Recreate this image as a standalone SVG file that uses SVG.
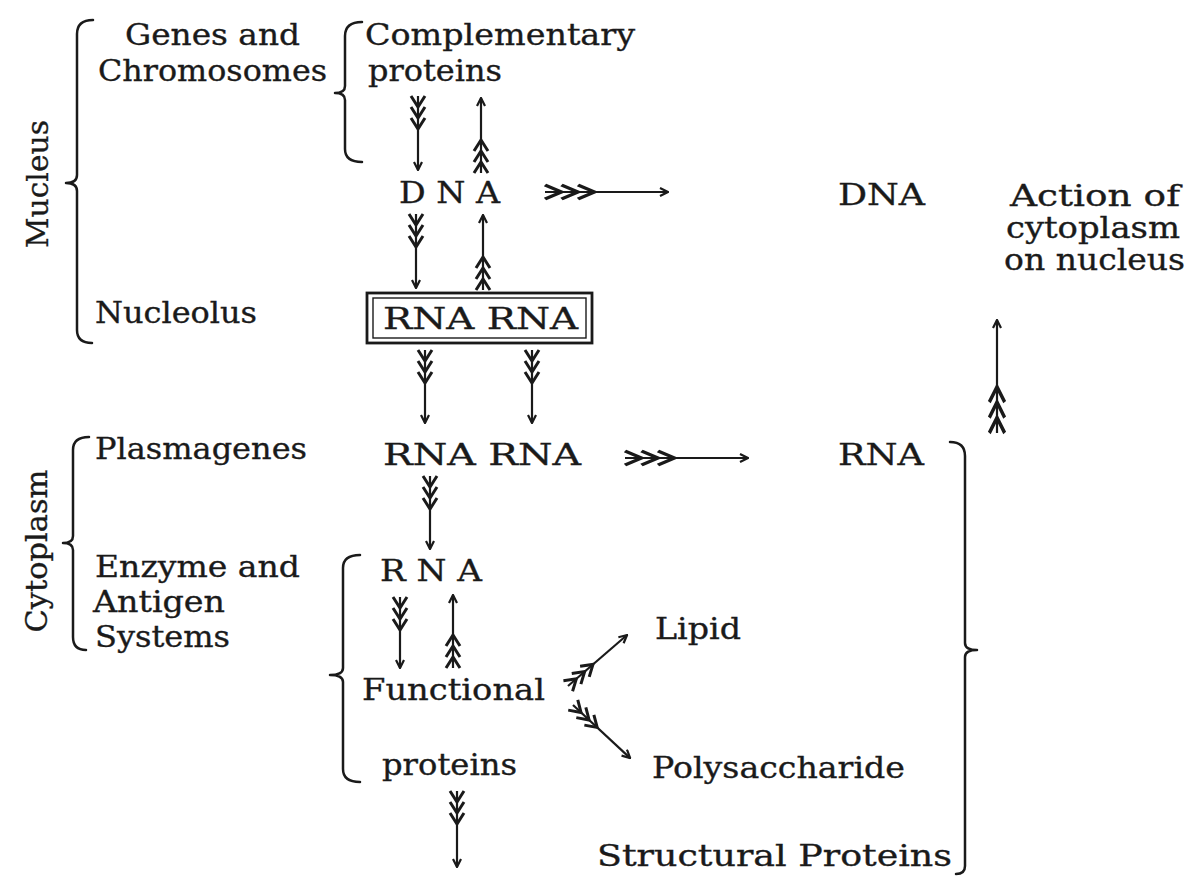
<svg xmlns="http://www.w3.org/2000/svg" xmlns:xlink="http://www.w3.org/1999/xlink" width="1188" height="876" viewBox="0 0 1188 876">
<style>
text{font-family:"DejaVu Serif","Liberation Serif",serif;font-size:30px;fill:#1a1a1a;stroke:#1a1a1a;stroke-width:0.35}
.br{fill:none;stroke:#1a1a1a;stroke-width:2.5;stroke-linecap:round;stroke-linejoin:round}
.shaft{stroke:#1a1a1a;stroke-width:2.2;fill:none;marker-end:url(#head)}
.fl{fill:none;stroke:#1a1a1a;stroke-width:3;stroke-linejoin:miter}
.box{fill:none;stroke:#1a1a1a}
</style>
<defs>
<marker id="head" viewBox="0 0 10 10" refX="9" refY="5" markerWidth="10" markerHeight="10" markerUnits="userSpaceOnUse" orient="auto">
<path d="M1,1 L9,5 L1,9" fill="none" stroke="#1a1a1a" stroke-width="2.2"/>
</marker>
<path id="fletch" class="fl" d="M0,-7 L11,0 L0,7 M11,-7 L22,0 L11,7 M22,-7 L33,0 L22,7"/>
</defs>
<rect width="1188" height="876" fill="#ffffff"/>

<g id="brace-nucleus"><path class="br" d="M93,20 Q77,20 77,34 L77,175 Q77,183 66,183 Q77,183 77,191 L77,330 Q77,343 92,343"/></g>
<g id="brace-genes"><path class="br" d="M362,22 Q345,22 345,36 L345,86 Q345,93 335,93 Q345,93 345,100 L345,149 Q345,162 362,162"/></g>
<g id="brace-cytoplasm"><path class="br" d="M89,437 Q73,437 73,450 L73,536 Q73,543 63,543 Q73,543 73,550 L73,637 Q73,650 86,650"/></g>
<g id="brace-rna"><path class="br" d="M360,555 Q343,555 343,568 L343,668 Q343,675 330,675 Q343,675 343,682 L343,769 Q343,782 360,782"/></g>
<g id="brace-right"><path class="br" d="M950,442 Q965,442 965,456 L965,643 Q965,650 977,650 Q965,650 965,657 L965,866 Q965,874 956,874"/></g>

<g id="node-mucleus"><text transform="translate(48,184) rotate(-90)" text-anchor="middle" textLength="128" lengthAdjust="spacingAndGlyphs">Mucleus</text></g>
<g id="node-cytoplasm-label"><text transform="translate(47,551) rotate(-90)" text-anchor="middle" textLength="163" lengthAdjust="spacingAndGlyphs">Cytoplasm</text></g>
<g id="node-genes"><text x="125" y="45" textLength="175" lengthAdjust="spacingAndGlyphs">Genes and</text><text x="98" y="81" textLength="229" lengthAdjust="spacingAndGlyphs">Chromosomes</text></g>
<g id="node-complementary"><text x="365" y="45" textLength="270" lengthAdjust="spacingAndGlyphs">Complementary</text><text x="368" y="81" textLength="134" lengthAdjust="spacingAndGlyphs">proteins</text></g>
<g id="node-dna"><text x="399" y="203" textLength="101" lengthAdjust="spacingAndGlyphs">D N A</text></g>
<g id="node-dna-right"><text x="838" y="205" textLength="87" lengthAdjust="spacingAndGlyphs">DNA</text></g>
<g id="node-action"><text x="1010" y="206" textLength="170" lengthAdjust="spacingAndGlyphs">Action of</text><text x="1006" y="238" textLength="174" lengthAdjust="spacingAndGlyphs">cytoplasm</text><text x="1004" y="270" textLength="181" lengthAdjust="spacingAndGlyphs">on nucleus</text></g>
<g id="node-nucleolus"><text x="95" y="323" textLength="162" lengthAdjust="spacingAndGlyphs">Nucleolus</text></g>
<g id="node-rna-box"><rect class="box" x="367" y="293" width="225" height="50" stroke-width="2.8"/><rect class="box" x="373" y="298" width="213" height="40" stroke-width="1.4"/><text x="383" y="329" textLength="195" lengthAdjust="spacingAndGlyphs">RNA RNA</text></g>
<g id="node-rna-row"><text x="383" y="465" textLength="198" lengthAdjust="spacingAndGlyphs">RNA RNA</text></g>
<g id="node-rna-right"><text x="838" y="465" textLength="86" lengthAdjust="spacingAndGlyphs">RNA</text></g>
<g id="node-plasmagenes"><text x="95" y="459" textLength="212" lengthAdjust="spacingAndGlyphs">Plasmagenes</text></g>
<g id="node-enzyme"><text x="95" y="577" textLength="205" lengthAdjust="spacingAndGlyphs">Enzyme and</text><text x="93" y="612" textLength="132" lengthAdjust="spacingAndGlyphs">Antigen</text><text x="95" y="647" textLength="135" lengthAdjust="spacingAndGlyphs">Systems</text></g>
<g id="node-rna-low"><text x="380" y="581" textLength="102" lengthAdjust="spacingAndGlyphs">R N A</text></g>
<g id="node-functional"><text x="362" y="700" textLength="183" lengthAdjust="spacingAndGlyphs">Functional</text><text x="382" y="775" textLength="135" lengthAdjust="spacingAndGlyphs">proteins</text></g>
<g id="node-lipid"><text x="655" y="639" textLength="86" lengthAdjust="spacingAndGlyphs">Lipid</text></g>
<g id="node-poly"><text x="652" y="778" textLength="253" lengthAdjust="spacingAndGlyphs">Polysaccharide</text></g>
<g id="node-structural"><text x="597" y="866" textLength="355" lengthAdjust="spacingAndGlyphs">Structural Proteins</text></g>

<g id="connectors">
<g transform="translate(418,96) rotate(90)"><line class="shaft" x1="0" y1="0" x2="74" y2="0"/><use xlink:href="#fletch"/></g>
<g transform="translate(481,173) rotate(-90)"><line class="shaft" x1="0" y1="0" x2="75" y2="0"/><use xlink:href="#fletch"/></g>
<g transform="translate(545,192)"><line class="shaft" x1="0" y1="0" x2="123" y2="0"/><use xlink:href="#fletch" transform="scale(1.5,1)"/></g>
<g transform="translate(416,214) rotate(90)"><line class="shaft" x1="0" y1="0" x2="74" y2="0"/><use xlink:href="#fletch"/></g>
<g transform="translate(483,290) rotate(-90)"><line class="shaft" x1="0" y1="0" x2="75" y2="0"/><use xlink:href="#fletch"/></g>
<g transform="translate(425,350) rotate(90)"><line class="shaft" x1="0" y1="0" x2="73" y2="0"/><use xlink:href="#fletch"/></g>
<g transform="translate(532,350) rotate(90)"><line class="shaft" x1="0" y1="0" x2="73" y2="0"/><use xlink:href="#fletch"/></g>
<g transform="translate(625,458)"><line class="shaft" x1="0" y1="0" x2="123" y2="0"/><use xlink:href="#fletch" transform="scale(1.5,1)"/></g>
<g transform="translate(997,433) rotate(-90)"><line class="shaft" x1="0" y1="0" x2="113" y2="0"/><use xlink:href="#fletch" transform="scale(1.4,1.1)"/></g>
<g transform="translate(430,476) rotate(90)"><line class="shaft" x1="0" y1="0" x2="73" y2="0"/><use xlink:href="#fletch"/></g>
<g transform="translate(400,597) rotate(90)"><line class="shaft" x1="0" y1="0" x2="71" y2="0"/><use xlink:href="#fletch"/></g>
<g transform="translate(453,668) rotate(-90)"><line class="shaft" x1="0" y1="0" x2="73" y2="0"/><use xlink:href="#fletch"/></g>
<g transform="translate(568,686) rotate(-40.8)"><line class="shaft" x1="0" y1="0" x2="78" y2="0"/><use xlink:href="#fletch"/></g>
<g transform="translate(573,705) rotate(42.9)"><line class="shaft" x1="0" y1="0" x2="78" y2="0"/><use xlink:href="#fletch"/></g>
<g transform="translate(457,791) rotate(90)"><line class="shaft" x1="0" y1="0" x2="76" y2="0"/><use xlink:href="#fletch"/></g>
</g>
</svg>
